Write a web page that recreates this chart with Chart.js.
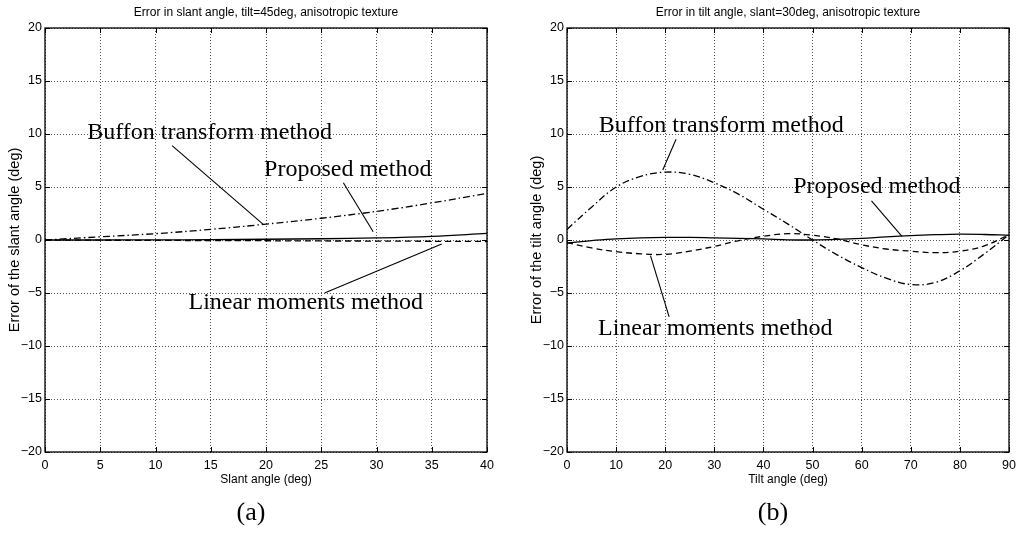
<!DOCTYPE html>
<html><head><meta charset="utf-8">
<script src="https://cdn.jsdelivr.net/npm/chart.js@4/dist/chart.umd.min.js"></script>
<style>
html,body{margin:0;padding:0;background:#fff;width:1016px;height:533px;overflow:hidden;position:relative}
canvas{position:absolute;top:0}
#c1{left:0}
#c2{left:508px}
</style></head><body>
<canvas id="c1" width="508" height="533"></canvas>
<canvas id="c2" width="520" height="533"></canvas>
<script>
// ---- Data: panel (a) ----
const slantAngles   = [0, 5, 10, 15, 20, 25, 30, 35, 40];
const slantBuffon   = [0, 0.3, 0.6, 1.0, 1.5, 2.05, 2.7, 3.5, 4.4];
const slantProposed = [0, 0, 0.01, 0.03, 0.07, 0.12, 0.2, 0.35, 0.62];
const slantLinear   = [0, -0.02, -0.04, -0.05, -0.07, -0.09, -0.1, -0.12, -0.14];
const slantTicksX   = [0, 5, 10, 15, 20, 25, 30, 35, 40];

// ---- Data: panel (b) ----
const tiltAngles   = [0, 5, 10, 15, 20, 25, 30, 35, 40, 45, 50, 55, 60, 65, 70, 75, 80, 85, 90];
const tiltBuffon   = [1.0, 3.1, 5.0, 6.0, 6.4, 6.2, 5.4, 4.3, 2.9, 1.5, 0.0, -1.4, -2.6, -3.6, -4.2, -4.0, -2.9, -1.3, 0.5];
const tiltProposed = [-0.3, -0.05, 0.1, 0.2, 0.25, 0.25, 0.2, 0.15, 0.1, 0.02, 0.0, 0.05, 0.15, 0.3, 0.42, 0.5, 0.55, 0.52, 0.45];
const tiltLinear   = [-0.25, -0.75, -1.1, -1.3, -1.35, -1.05, -0.6, -0.05, 0.35, 0.6, 0.45, 0.1, -0.45, -0.85, -1.05, -1.2, -1.05, -0.55, 0.5];
const tiltTicksX   = [0, 10, 20, 30, 40, 50, 60, 70, 80, 90];

const errorTicksY = [-20, -15, -10, -5, 0, 5, 10, 15, 20];

// ---- Annotation labels (text, label centre, pointer start, pointer end; data units) ----
const slantNotes = [
  ['Buffon transform method', 14.9, 10.1, 11.5, 8.9, 19.75, 1.48],
  ['Proposed method',         27.4, 6.6,  27.0, 5.4, 29.7, 0.78],
  ['Linear moments method',   23.6, -5.95, 25.3, -5.0, 35.9, -0.38]
];
const tiltNotes = [
  ['Buffon transform method', 31.4, 10.8, 22.2, 9.5, 19.5, 6.6],
  ['Proposed method',         63.1, 5.0,  62.0, 3.7, 68.2, 0.35],
  ['Linear moments method',   30.2, -8.4, 17.0, -1.47, 20.8, -7.26]
];

const SANS = '"Liberation Sans", Arial, Helvetica, sans-serif';
const SERIF = '"Liberation Serif", "Times New Roman", serif';

function pts(xs, ys) { return xs.map((x, i) => ({x: x, y: ys[i]})); }
function minusSign(v) { return String(v).replace('-', '\u2212'); }

function framePlugin(notes, caption) {
  return {
    id: 'frame' + caption,
    afterDatasetsDraw(chart) {
      const {ctx, chartArea: a, scales: {x, y}} = chart;
      ctx.save();
      ctx.setLineDash([]);
      ctx.strokeStyle = '#000';
      ctx.lineWidth = 1.3;
      ctx.strokeRect(a.left, a.top, a.right - a.left, a.bottom - a.top);
      const tl = 5;
      ctx.lineWidth = 1;
      ctx.beginPath();
      x.ticks.forEach(t => {
        const px = Math.round(x.getPixelForValue(t.value)) + 0.5;
        ctx.moveTo(px, a.bottom); ctx.lineTo(px, a.bottom - tl);
        ctx.moveTo(px, a.top); ctx.lineTo(px, a.top + tl);
      });
      y.ticks.forEach(t => {
        const py = Math.round(y.getPixelForValue(t.value)) + 0.5;
        ctx.moveTo(a.left, py); ctx.lineTo(a.left + tl, py);
        ctx.moveTo(a.right, py); ctx.lineTo(a.right - tl, py);
      });
      ctx.stroke();
      // annotations
      ctx.fillStyle = '#000';
      ctx.font = '24px ' + SERIF;
      ctx.textAlign = 'center';
      ctx.textBaseline = 'middle';
      ctx.lineWidth = 1.1;
      notes.forEach(n => {
        ctx.fillText(n[0], x.getPixelForValue(n[1]), y.getPixelForValue(n[2]));
        ctx.beginPath();
        ctx.moveTo(x.getPixelForValue(n[3]), y.getPixelForValue(n[4]));
        ctx.lineTo(x.getPixelForValue(n[5]), y.getPixelForValue(n[6]));
        ctx.stroke();
      });
      // caption
      ctx.font = '26px ' + SERIF;
      ctx.fillText(caption, (a.left + a.right) / 2 - 15, 513);
      ctx.restore();
    }
  };
}

function makeChart(id, cfg) {
  const lineBase = {borderColor: '#000', borderWidth: 1.3, pointRadius: 0, tension: 0.4, fill: false};
  new Chart(document.getElementById(id), {
    type: 'scatter',
    data: {
      datasets: [
        Object.assign({label: 'Buffon transform method', data: pts(cfg.xs, cfg.buffon), showLine: true, borderDash: [7, 3, 1.5, 3]}, lineBase),
        Object.assign({label: 'Proposed method', data: pts(cfg.xs, cfg.proposed), showLine: true}, lineBase),
        Object.assign({label: 'Linear moments method', data: pts(cfg.xs, cfg.linear), showLine: true, borderDash: [6, 4]}, lineBase)
      ]
    },
    options: {
      responsive: false,
      animation: false,
      layout: {padding: {left: 0, right: cfg.padRight, top: 0, bottom: 45}},
      plugins: {
        legend: {display: false},
        tooltip: {enabled: false},
        title: {
          display: true, text: cfg.title, fullSize: false, color: '#000',
          font: {family: SANS, size: 12, weight: 'normal', lineHeight: 1.2},
          padding: {top: 5.8, bottom: 7.8}
        }
      },
      scales: {
        x: {
          type: 'linear', min: cfg.xs[0], max: cfg.xmax,
          afterBuildTicks: s => { s.ticks = cfg.ticksX.map(v => ({value: v})); },
          ticks: {color: '#000', padding: 6, maxRotation: 0, autoSkip: false,
                  font: {family: SANS, size: 12.5}},
          grid: {color: '#555', lineWidth: 1, drawTicks: false},
          border: {display: false, dash: [1, 2]},
          title: {display: true, text: cfg.xTitle, color: '#000',
                  font: {family: SANS, size: 12, lineHeight: 1.2}, padding: {top: 0, bottom: 0.8}},
          afterFit: s => { s.height = 36; }
        },
        y: {
          type: 'linear', min: -20, max: 20,
          afterBuildTicks: s => { s.ticks = errorTicksY.map(v => ({value: v})); },
          ticks: {color: '#000', padding: 3, font: {family: SANS, size: 12.5}, callback: v => minusSign(v)},
          grid: {color: '#555', lineWidth: 1, drawTicks: false},
          border: {display: false, dash: [1, 2]},
          title: {display: true, text: cfg.yTitle, color: '#000',
                  font: {family: SANS, size: 14.5, lineHeight: 1.2}, padding: {top: cfg.yTitlePad, bottom: 0}},
          afterFit: s => { s.width = cfg.yWidth; }
        }
      }
    },
    plugins: [framePlugin(cfg.notes, cfg.caption)]
  });
}

makeChart('c1', {
  xs: slantAngles, xmax: 40, ticksX: slantTicksX,
  buffon: slantBuffon, proposed: slantProposed, linear: slantLinear,
  title: 'Error in slant angle, tilt=45deg, anisotropic texture',
  xTitle: 'Slant angle (deg)', yTitle: 'Error of the slant angle (deg)',
  yWidth: 45, yTitlePad: 6.3, padRight: 21,
  notes: slantNotes, caption: '(a)'
});

makeChart('c2', {
  xs: tiltAngles, xmax: 90, ticksX: tiltTicksX,
  buffon: tiltBuffon, proposed: tiltProposed, linear: tiltLinear,
  title: 'Error in tilt angle, slant=30deg, anisotropic texture',
  xTitle: 'Tilt angle (deg)', yTitle: 'Error of the tilt angle (deg)',
  yWidth: 59, yTitlePad: 20.3, padRight: 19,
  notes: tiltNotes, caption: '(b)'
});
</script>
</body></html>
